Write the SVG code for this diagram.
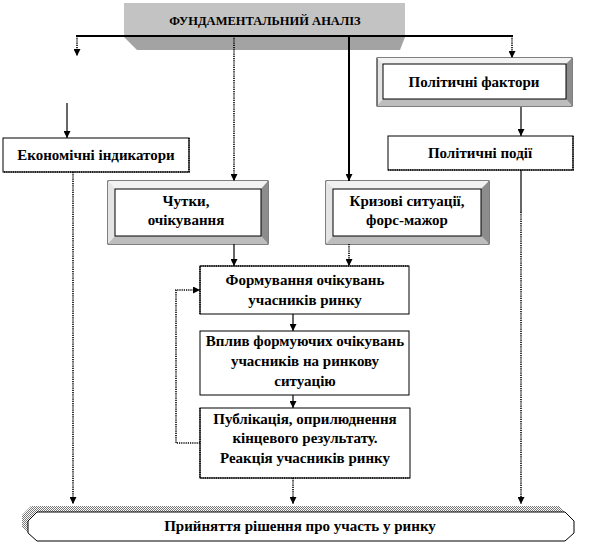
<svg xmlns="http://www.w3.org/2000/svg" width="593" height="545" viewBox="0 0 593 545">
<defs>
<marker id="ah" markerWidth="7" markerHeight="7" refX="7" refY="3.5" orient="auto" markerUnits="userSpaceOnUse" viewBox="0 0 7 7">
<path d="M0,0 L7,3.5 L0,7 Z" fill="#000" stroke="none"/>
</marker>
<pattern id="dith" width="2" height="2" patternUnits="userSpaceOnUse">
<rect width="2" height="2" fill="#fff"/>
<rect width="1" height="1" fill="#777"/>
<rect x="1" y="1" width="1" height="1" fill="#777"/>
</pattern>
</defs>
<style>
text{font-family:"Liberation Serif","Times New Roman",serif;font-weight:bold;font-size:15px;fill:#000;text-anchor:middle}
.title{font-size:12.5px}
.sol{stroke:#000;stroke-width:1.2;fill:none}
.thick{stroke:#000;stroke-width:2;fill:none}
.dot{stroke:#000;stroke-width:1.6;fill:none;stroke-dasharray:1.2 1}
.box{fill:#fff;stroke:#000;stroke-width:1}
.edge{stroke:#000;stroke-width:1.6;fill:none;stroke-dasharray:1.2 1}
.inner{fill:#fff;stroke:#000;stroke-width:1}
.bt{fill:#f2f2f2}.bl{fill:#e4e4e4}.br{fill:#8c8c8c}.bb{fill:#bdbdbd}
</style>
<rect width="593" height="545" fill="#fff"/>

<g id="fundamental">
<rect x="124" y="3" width="281" height="34" fill="#c3c3c3"/>
<polygon points="124,37 405,37 400,50 137,50" fill="#a3a3a3"/>
<text class="title" x="265" y="25">ФУНДАМЕНТАЛЬНИЙ АНАЛІЗ</text>
</g>

<g id="connectors">
<path class="thick" d="M76,36 L513,36"/>
<path class="dot" d="M77,36 L77,56" marker-end="url(#ah)"/>
<path class="dot" d="M512,36 L512,58" marker-end="url(#ah)"/>
<path class="dot" d="M234,36 L234,181" marker-end="url(#ah)"/>
<path class="thick" d="M349,36 L349,181" marker-end="url(#ah)"/>
<path class="sol" d="M67,103 L67,138" marker-end="url(#ah)"/>
<path class="sol" d="M521,107 L521,136" marker-end="url(#ah)"/>
<path class="dot" d="M73,172 L73,504" marker-end="url(#ah)"/>
<path class="sol" d="M521,170 L521,212"/>
<path class="dot" d="M521,212 L521,504" marker-end="url(#ah)"/>
<path class="sol" d="M234,244 L234,266" marker-end="url(#ah)"/>
<path class="dot" d="M349,244 L349,266" marker-end="url(#ah)"/>
<path class="sol" d="M293,314 L293,331" marker-end="url(#ah)"/>
<path class="sol" d="M293,395 L293,408" marker-end="url(#ah)"/>
<path class="dot" d="M293,478 L293,504" marker-end="url(#ah)"/>
<path class="dot" d="M200,443 L176,443 L176,290 L200,290" marker-end="url(#ah)"/>
</g>

<g id="polit-factors">
<rect x="377" y="58" width="195" height="48" fill="#e4e4e4" stroke="#000" stroke-width="1"/>
<polygon class="bt" points="377,58 572,58 566,64 383,64"/>
<polygon class="br" points="572,58 572,106 566,99 566,64"/>
<polygon class="bb" points="377,106 572,106 566,99 383,99"/>
<rect class="inner" x="383" y="64" width="183" height="35"/>
<text x="474" y="87">Політичні фактори</text>
</g>

<g id="polit-events">
<rect class="box" x="388" y="136" width="185" height="34"/>
<path class="edge" d="M573,136 L573,170 L388,170"/>
<text x="480" y="158">Політичні події</text>
</g>

<g id="econ">
<rect class="box" x="3" y="138" width="186" height="34"/>
<path class="edge" d="M189,138 L189,172 L3,172"/>
<text x="96" y="160">Економічні  індикатори</text>
</g>

<g id="rumors">
<rect x="108" y="181" width="160" height="63" fill="#e4e4e4" stroke="#000" stroke-width="1"/>
<polygon class="bt" points="108,181 268,181 261,189 115,189"/>
<polygon class="bl" points="108,181 115,189 115,236 108,244"/>
<polygon class="br" points="268,181 268,244 261,236 261,189"/>
<polygon class="bb" points="108,244 268,244 261,236 115,236"/>
<rect class="inner" x="115" y="189" width="146" height="47"/>
<text x="186" y="206">Чутки,</text>
<text x="186" y="225">очікування</text>
</g>

<g id="crisis">
<rect x="326" y="181" width="163" height="63" fill="#e4e4e4" stroke="#000" stroke-width="1"/>
<polygon class="bt" points="326,181 489,181 481,189 333,189"/>
<polygon class="bl" points="326,181 333,189 333,236 326,244"/>
<polygon class="br" points="489,181 489,244 481,236 481,189"/>
<polygon class="bb" points="326,244 489,244 481,236 333,236"/>
<rect class="inner" x="333" y="189" width="148" height="47"/>
<text x="407" y="206">Кризові ситуації,</text>
<text x="407" y="225">форс-мажор</text>
</g>

<g id="forming">
<rect class="box" x="200" y="266" width="209" height="48"/>
<path class="edge" d="M200,314 L200,266 L409,266"/>
<text x="305" y="285">Формування очікувань</text>
<text x="305" y="305">учасників  ринку</text>
</g>

<g id="influence">
<rect class="box" x="200" y="331" width="209" height="64"/>
<text x="305" y="346">Вплив формуючих  очікувань</text>
<text x="305" y="366">учасників  на ринкову</text>
<text x="305" y="386">ситуацію</text>
</g>

<g id="publication">
<rect class="box" x="200" y="408" width="210" height="70"/>
<path class="edge" d="M200,408 L200,478 L410,478"/>
<text x="305" y="424">Публікація,  оприлюднення</text>
<text x="305" y="443">кінцевого результату.</text>
<text x="305" y="463">Реакція учасників  ринку</text>
</g>

<g id="decision">
<polygon points="31,506 559,506 568,515 568,527 559,535 31,535 22,527 22,515" fill="url(#dith)"/>
<polygon points="37,512 565,512 574,521 574,533 565,541 37,541 28,533 28,521" fill="#fff" stroke="#000" stroke-width="1"/>
<text x="300" y="531">Прийняття рішення про участь у ринку</text>
</g>
</svg>
